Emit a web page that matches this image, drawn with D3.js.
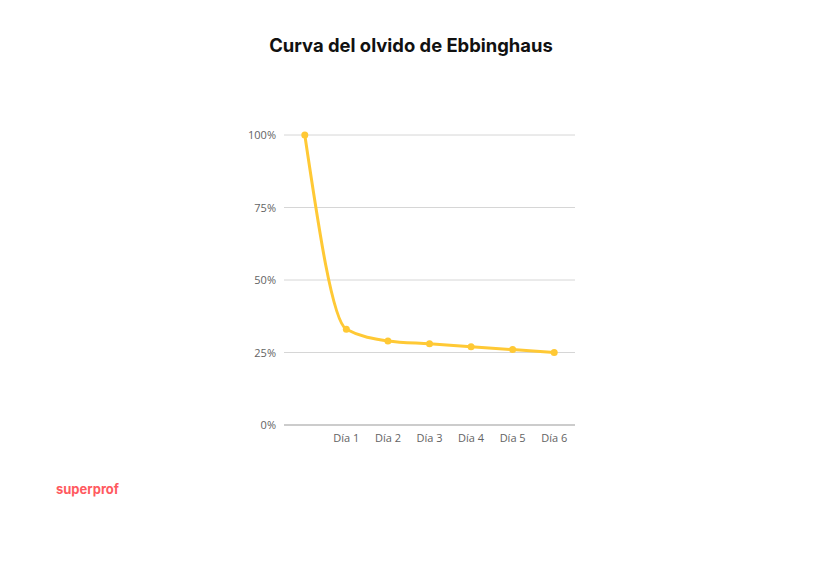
<!DOCTYPE html>
<html>
<head>
<meta charset="utf-8">
<script src="https://cdn.jsdelivr.net/npm/d3@7"></script>
<style>
  html, body { margin: 0; padding: 0; background: #fff; }
  svg { display: block; }
</style>
</head>
<body>
<svg id="chart" width="840" height="561"></svg>
<script>
const categories = ["", "Día 1", "Día 2", "Día 3", "Día 4", "Día 5", "Día 6"];
const retention = [100, 33, 29, 28, 27, 26, 25];
const yTicks = [0, 25, 50, 75, 100];
const titleText = "Curva del olvido de Ebbinghaus";
const brandText = "superprof";

const svg = d3.select("#chart");
const margin = { left: 284, right: 265, top: 135, bottom: 136 };
const W = 840, H = 561;

const x = d3.scaleBand().domain(categories).range([margin.left, W - margin.right]).padding(0);
const y = d3.scaleLinear().domain([0, 100]).range([H - margin.bottom, margin.top]);

// gridlines
const grid = svg.append("g");
grid.selectAll("line").data(yTicks.filter(d => d !== 0)).join("line")
  .attr("x1", margin.left).attr("x2", W - margin.right)
  .attr("y1", d => y(d)).attr("y2", d => y(d))
  .attr("stroke", "#d6d6d6").attr("stroke-width", 1);

// y axis labels
const yAxis = d3.axisLeft(y).tickValues(yTicks).tickFormat(d => d + "%").tickSize(0).tickPadding(8);
const gy = svg.append("g").attr("transform", `translate(${margin.left},0)`).call(yAxis);
gy.select(".domain").remove();
gy.selectAll("text").attr("font-family", "'Open Sans', sans-serif").attr("font-size", 11).attr("fill", "#636363");

// baseline
svg.append("line")
  .attr("x1", margin.left).attr("x2", W - margin.right)
  .attr("y1", y(0)).attr("y2", y(0))
  .attr("stroke", "#999").attr("stroke-width", 1);

// x axis labels
const xAxis = d3.axisBottom(x).tickSize(0).tickPadding(9);
const gx = svg.append("g").attr("transform", `translate(0,${y(0)})`).call(xAxis);
gx.select(".domain").remove();
gx.selectAll("text").attr("font-family", "'Open Sans', sans-serif").attr("font-size", 11).attr("fill", "#636363");

const cx = d => x(d) + x.bandwidth() / 2;
const pts = categories.map((c, i) => [cx(c), y(retention[i])]);

// line
svg.append("path")
  .attr("d", d3.line().curve(d3.curveMonotoneX)(pts))
  .attr("fill", "none")
  .attr("stroke", "#ffc935")
  .attr("stroke-width", 3)
  .attr("stroke-linecap", "round");

svg.append("g").selectAll("circle").data(pts).join("circle")
  .attr("cx", d => d[0]).attr("cy", d => d[1]).attr("r", 3.5)
  .attr("fill", "#ffc935");

// title
svg.append("text")
  .attr("x", 411).attr("y", 52)
  .attr("text-anchor", "middle")
  .attr("font-family", "Inter, sans-serif")
  .attr("font-weight", 700)
  .attr("font-size", 18.4)
  .attr("fill", "#111")
  .text(titleText);

// brand
svg.append("text")
  .attr("x", 56).attr("y", 494)
  .attr("font-family", "Inter, sans-serif")
  .attr("font-weight", 700)
  .attr("font-size", 13)
  .attr("fill", "#ff5a5f")
  .text(brandText);
</script>
</body>
</html>
